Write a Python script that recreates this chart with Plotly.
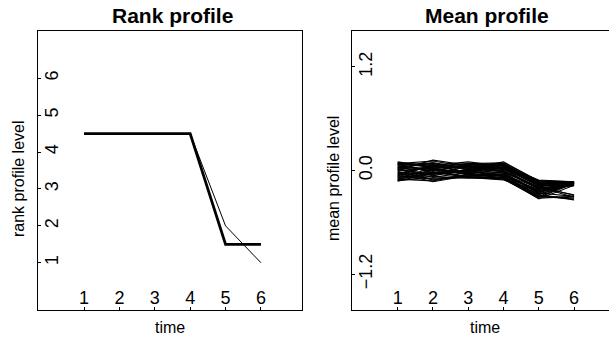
import plotly.graph_objects as go

W, H = 609, 342

time = [1, 2, 3, 4, 5, 6]

# Rank profiles
rank_thick = [4.5, 4.5, 4.5, 4.5, 1.5, 1.5]
rank_thin = [4.5, 4.5, 4.5, 4.5, 2.0, 1.0]

# Mean profiles
m01 = [0.05, 0.02, 0.06, 0.08, -0.14, -0.15]
m02 = [-0.10, -0.12, -0.05, -0.08, -0.30, -0.33]
m03 = [0.08, 0.11, 0.04, 0.06, -0.18, -0.14]
m04 = [-0.04, 0.05, 0.08, 0.02, -0.22, -0.16]
m05 = [0.02, -0.08, -0.02, -0.04, -0.26, -0.14]
m06 = [-0.08, 0.00, -0.07, -0.10, -0.32, -0.30]
m07 = [0.06, 0.08, 0.02, 0.10, -0.12, -0.13]
m08 = [-0.02, -0.05, 0.05, -0.02, -0.20, -0.28]
m09 = [0.00, 0.03, -0.04, 0.04, -0.16, -0.14]
m10 = [-0.12, -0.03, 0.00, -0.06, -0.28, -0.15]
m11 = [0.09, 0.06, 0.10, 0.05, -0.11, -0.13]
m12 = [-0.06, -0.10, -0.08, -0.11, -0.24, -0.15]
m13 = [0.03, 0.09, 0.03, 0.00, -0.19, -0.31]
m14 = [-0.09, -0.06, 0.01, -0.03, -0.27, -0.16]
m15 = [0.07, -0.01, 0.07, 0.08, -0.15, -0.14]
m16 = [-0.05, 0.07, -0.03, -0.07, -0.23, -0.17]
m17 = [0.01, -0.04, 0.06, 0.03, -0.17, -0.15]
m18 = [-0.11, -0.09, -0.06, -0.09, -0.30, -0.14]
m19 = [0.04, 0.01, -0.01, 0.07, -0.13, -0.16]
m20 = [-0.03, 0.04, 0.04, -0.01, -0.21, -0.15]
m21 = [0.08, -0.03, 0.00, 0.02, -0.18, -0.29]
m22 = [-0.07, 0.02, -0.05, -0.05, -0.25, -0.14]
m23 = [0.10, 0.04, 0.08, 0.09, -0.12, -0.14]
m24 = [-0.12, -0.07, -0.09, -0.08, -0.29, -0.32]
m25 = [0.06, 0.09, 0.01, 0.03, -0.14, -0.13]
m26 = [-0.01, -0.11, -0.04, -0.06, -0.22, -0.15]
m27 = [0.03, 0.00, 0.07, 0.05, -0.16, -0.14]
m28 = [-0.06, 0.06, -0.02, -0.02, -0.26, -0.30]
m29 = [0.09, 0.03, 0.05, 0.01, -0.15, -0.16]
m30 = [-0.10, -0.02, -0.08, -0.10, -0.31, -0.15]
m31 = [0.04, 0.07, -0.03, 0.06, -0.17, -0.18]
m32 = [-0.03, -0.13, -0.06, -0.04, -0.24, -0.17]
m33 = [0.07, 0.05, 0.03, 0.04, -0.13, -0.15]
m34 = [-0.08, -0.04, -0.01, -0.07, -0.28, -0.34]
m35 = [0.01, 0.12, 0.06, 0.07, -0.16, -0.13]
m36 = [-0.05, -0.02, -0.07, -0.05, -0.20, -0.16]
m37 = [0.02, -0.06, 0.02, -0.01, -0.19, -0.14]
m38 = [-0.11, 0.01, -0.04, -0.09, -0.33, -0.17]
mean_profiles = [m01, m02, m03, m04, m05, m06, m07, m08, m09, m10,
                 m11, m12, m13, m14, m15, m16, m17, m18, m19, m20,
                 m21, m22, m23, m24, m25, m26, m27, m28, m29, m30,
                 m31, m32, m33, m34, m35, m36, m37, m38]

rank_yticks = [1, 2, 3, 4, 5, 6]
mean_yticks = [-1.2, 0.0, 1.2]
mean_yticklabels = ["\u22121.2", "0.0", "1.2"]

FONT = "Liberation Sans, Arial, Helvetica, sans-serif"
TICKF = 18
LABF = 16
TITF = 21

fig = go.Figure()

for series in mean_profiles:
    fig.add_trace(go.Scatter(x=time, y=series, mode="lines",
                             line=dict(color="black", width=1.1),
                             xaxis="x2", yaxis="y2", showlegend=False,
                             hoverinfo="skip"))

fig.add_trace(go.Scatter(x=time, y=rank_thin, mode="lines",
                         line=dict(color="black", width=1),
                         xaxis="x", yaxis="y", showlegend=False))
fig.add_trace(go.Scatter(x=time, y=rank_thick, mode="lines",
                         line=dict(color="black", width=2.8),
                         xaxis="x", yaxis="y", showlegend=False))

def px_x(p):
    return p / W

def px_y(p):
    return 1 - p / H

ytop, ybot = px_y(31), px_y(310)

common_x = dict(showgrid=False, zeroline=False, showline=True, linecolor="black",
                linewidth=1, ticks="inside", ticklen=3, tickcolor="black",
                ticklabelposition="inside", tickvals=time,
                tickfont=dict(family=FONT, size=TICKF, color="black"))
common_y = dict(showgrid=False, zeroline=False, showline=True, linecolor="black",
                linewidth=1, ticks="inside", ticklen=3, tickcolor="black",
                ticklabelposition="inside", tickangle=-90, ticklabelstandoff=-4,
                tickfont=dict(family=FONT, size=TICKF, color="black"))

fig.update_layout(
    width=W, height=H,
    margin=dict(l=0, r=0, t=0, b=0),
    paper_bgcolor="white", plot_bgcolor="white",
    xaxis=dict(domain=[px_x(38), px_x(302)], range=[-0.30, 7.16], anchor="y",
               mirror=True, **common_x),
    yaxis=dict(domain=[ybot, ytop], range=[-0.28, 7.28], anchor="x",
               mirror=True, tickvals=rank_yticks, **common_y),
    xaxis2=dict(domain=[px_x(352), 1.0], range=[-0.295, 6.99], anchor="y2",
                mirror=True, **common_x),
    yaxis2=dict(domain=[ybot, ytop], range=[-1.615, 1.615], anchor="x2",
                tickvals=mean_yticks, ticktext=mean_yticklabels, **common_y),
)

ann = []
def add_text(x, y, text, size, bold=False, angle=0):
    ann.append(dict(x=px_x(x), y=px_y(y), xref="paper", yref="paper",
                    text=("<b>%s</b>" % text) if bold else text,
                    showarrow=False, textangle=angle,
                    font=dict(family=FONT, size=size, color="black"),
                    xanchor="center", yanchor="middle"))

add_text(172, 15, "Rank profile", TITF, bold=True)
add_text(487, 15, "Mean profile", TITF, bold=True)
add_text(170, 327, "time", LABF)
add_text(485, 327, "time", LABF)
add_text(18, 179, "rank profile level", LABF, angle=-90)
add_text(333, 179, "mean profile level", LABF, angle=-90)
fig.update_layout(annotations=ann)

fig.write_html("out.html", config={"displayModeBar": False},
               post_script="document.body.style.margin='0px';document.body.style.padding='0px';")
